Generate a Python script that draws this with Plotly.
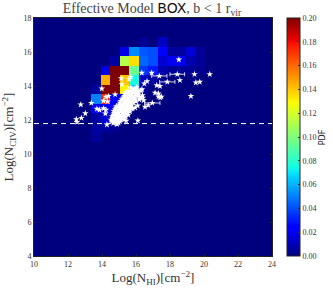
import plotly.graph_objects as go

x_edges = [10 + 0.56 * i for i in range(26)]
y_edges = [4 + 0.56 * i for i in range(26)]

def row(d):
    return [d.get(i, 0) for i in range(25)]

pdf_rows_top_down = [
    row({}),
    row({}),
    row({11: 0.004, 13: 0.012}),
    row({9: 0.018, 10: 0.052, 11: 0.042, 12: 0.04, 13: 0.022, 14: 0.005, 15: 0.005, 16: 0.015, 17: 0.004}),
    row({8: 0.006, 9: 0.113, 10: 0.135, 11: 0.045, 12: 0.04, 13: 0.014, 14: 0.02, 15: 0.02, 16: 0.008, 17: 0.004}),
    row({7: 0.018, 8: 0.2, 9: 0.2, 10: 0.095, 11: 0.036, 12: 0.03, 13: 0.008, 14: 0.004, 15: 0.004, 16: 0.004, 17: 0.003}),
    row({7: 0.145, 8: 0.2, 9: 0.14, 10: 0.075, 11: 0.012, 12: 0.006, 13: 0.003}),
    row({6: 0.005, 7: 0.2, 8: 0.2, 9: 0.13, 10: 0.06, 11: 0.005}),
    row({6: 0.05, 7: 0.175, 8: 0.02, 9: 0.015, 10: 0.005}),
    row({6: 0.02, 7: 0.02, 8: 0.02, 9: 0.01}),
    row({6: 0.006, 7: 0.015, 8: 0.005}),
    row({6: 0.006, 7: 0.006, 8: 0.003}),
    row({6: 0.005}),
] + [row({}) for _ in range(12)]

star_x = [18.52, 16.34, 16.92, 17.37, 18.43, 18.58, 19.44, 20.34, 17.84, 16.65, 16.49, 17.22, 17.41, 19.52, 19.75,
          15.13, 15.17, 15.6, 15.69, 13.99, 13.37, 14.23, 14.38, 14.09, 14.33, 14.77, 15.75, 16.05, 16.3, 16.35,
          17.12, 17.32, 17.5, 17.32, 17.42, 19.23, 16.96, 16.72, 16.53, 15.95, 15.75, 16.1, 13.7, 13.85, 14.09, 14.23,
          14.2, 12.75, 13.02, 12.79, 12.49, 12.53, 14.29, 14.88, 16.11, 16.0, 16.2, 16.4, 16.45, 15.9,
          14.66, 14.87, 14.97, 14.58, 14.77, 14.92, 15.06, 14.53, 14.71, 14.84, 15.02, 15.12, 14.62, 14.74, 14.91,
          15.03, 15.21, 14.59, 14.81, 14.96, 15.09, 15.26, 14.67, 14.79, 15.01, 15.16, 15.29, 14.71, 14.86, 14.99,
          15.22, 15.36, 14.69, 14.91, 15.11, 15.24, 15.41, 14.76, 14.94, 15.08, 15.31, 15.44, 14.82, 15.02, 15.19,
          15.37, 15.52, 14.84, 15.03, 15.22, 15.41, 15.61, 15.01, 15.18, 15.36, 15.49, 15.66, 15.06, 15.26, 15.44,
          15.62, 15.74, 15.09, 15.31, 15.52, 15.71, 15.17, 15.33, 15.56, 15.77, 15.24, 15.46, 15.59, 15.82, 15.31,
          15.49, 15.72, 15.91, 15.34, 15.57, 15.76, 15.42, 15.61, 15.84, 15.52, 15.69, 15.96, 16.02, 15.88, 15.66,
          15.6, 15.8, 15.5, 15.4, 15.3, 15.72, 15.85, 15.95, 16.05, 16.15, 16.28, 16.38, 16.12, 15.98, 16.22,
          15.55, 15.65, 15.42]
star_y = [15.55, 14.77, 14.77, 14.59, 14.69, 14.34, 14.69, 14.69, 14.24, 14.28, 14.14, 14.04, 13.99, 14.2, 14.24,
          14.45, 14.1, 14.4, 14.53, 13.85, 13.0, 13.36, 13.4, 13.13, 13.09, 13.5, 13.85, 13.95, 13.75, 13.8,
          13.6, 13.56, 13.37, 13.37, 13.32, 13.4, 13.0, 12.87, 12.77, 12.73, 12.67, 12.85, 12.65, 12.6, 12.68, 12.6,
          12.38, 12.9, 12.39, 12.12, 12.04, 11.88, 11.73, 11.76, 11.96, 13.1, 13.2, 13.3, 13.15, 13.25,
          11.82, 11.78, 11.83, 11.91, 11.88, 11.93, 11.9, 12.01, 11.98, 12.03, 11.99, 12.04, 12.1, 12.08, 12.12,
          12.09, 12.13, 12.21, 12.18, 12.22, 12.19, 12.23, 12.31, 12.28, 12.32, 12.29, 12.33, 12.41, 12.38, 12.42,
          12.39, 12.43, 12.52, 12.48, 12.51, 12.47, 12.53, 12.61, 12.58, 12.62, 12.59, 12.63, 12.71, 12.68, 12.72,
          12.69, 12.73, 12.81, 12.78, 12.82, 12.79, 12.83, 12.91, 12.88, 12.92, 12.89, 12.93, 13.01, 12.98, 13.02,
          12.99, 13.03, 13.11, 13.08, 13.12, 13.09, 13.21, 13.18, 13.22, 13.19, 13.31, 13.28, 13.32, 13.29, 13.41,
          13.38, 13.42, 13.39, 13.51, 13.48, 13.52, 13.61, 13.58, 13.62, 13.71, 13.68, 13.72, 13.85, 13.82, 13.9,
          12.6, 12.7, 12.42, 12.2, 12.02, 12.85, 13.0, 13.2, 13.4, 13.55, 13.72, 13.45, 13.65, 13.5, 13.35,
          12.3, 12.5, 11.95]

bar_x = [17.37, 18.43, 17.84, 16.96]
bar_y = [14.59, 14.69, 14.24, 13.0]
bar_err = [0.45, 0.43, 0.45, 0.45]

cut_x = [10, 24]
cut_y = [11.79, 11.79]

x_ticks = [10, 12, 14, 16, 18, 20, 22, 24]
y_ticks = [4, 6, 8, 10, 12, 14, 16, 18]
cbar_ticks = [0.00, 0.02, 0.04, 0.06, 0.08, 0.10, 0.12, 0.14, 0.16, 0.18, 0.20]

jet = [[0, "rgb(0,0,127)"], [0.11, "rgb(0,0,255)"], [0.125, "rgb(0,0,255)"], [0.34, "rgb(0,219,255)"],
       [0.375, "rgb(20,255,226)"], [0.64, "rgb(247,255,8)"], [0.66, "rgb(255,236,0)"],
       [0.89, "rgb(255,19,0)"], [0.91, "rgb(232,0,0)"], [1, "rgb(127,0,0)"]]

SERIF = "Liberation Serif"
W, H = 333, 290
L, R, T, B = 33.5, 60.5, 17.5, 33.5
fig = go.Figure()
fig.add_trace(go.Heatmap(
    x=x_edges, y=y_edges, z=pdf_rows_top_down[::-1], zmin=0, zmax=0.2, colorscale=jet,
    colorbar=dict(x=(287.3 - L) / (W - L - R), xanchor="left", y=0, yanchor="bottom", len=1, lenmode="fraction",
                  thickness=12.5, thicknessmode="pixels", tickvals=cbar_ticks, ticktext=[f"{v:.2f}" for v in cbar_ticks],
                  ticks="inside", ticklen=2, tickcolor="#333", tickfont=dict(family=SERIF, size=8, color="#333"),
                  outlinewidth=1, outlinecolor="#222", xpad=0, ypad=0),
    hoverinfo="skip"))
fig.add_trace(go.Scatter(x=cut_x, y=cut_y, mode="lines", line=dict(color="white", width=1, dash="5px,4px"), showlegend=False))
fig.add_trace(go.Scatter(x=bar_x, y=bar_y, mode="markers", marker=dict(size=1, color="white"), showlegend=False,
                         error_x=dict(type="data", array=bar_err, color="white", thickness=0.8, width=2)))
fig.add_trace(go.Scatter(x=star_x, y=star_y, mode="markers", showlegend=False,
                         marker=dict(symbol="star", size=5, color="white", line=dict(width=0))))

axis = dict(showgrid=False, zeroline=False, ticks="inside", ticklen=2, tickcolor="#222", mirror="ticks", showline=True,
            linecolor="#222", linewidth=1, automargin=False, tickfont=dict(family=SERIF, size=8, color="#333"))
fig.update_layout(
    width=W, height=H, autosize=False, margin=dict(l=L, r=R, t=T, b=B), paper_bgcolor="white", plot_bgcolor="rgb(0,0,127)",
    title=dict(text='Effective Model <span style="font-family:DejaVu Sans;color:#111">BOX</span>, b &lt; 1 r<sub>vir</sub>',
               x=152 / W, xanchor="center", y=1 - 8.5 / H, yanchor="middle", automargin=False,
               font=dict(family=SERIF, size=14, color="#444")),
    xaxis=dict(axis, range=[10, 24], tickvals=x_ticks, ticktext=[str(v) for v in x_ticks], automargin=True,
               title=dict(text="Log(N<sub>HI</sub>)[cm<sup>−2</sup>]", standoff=0, font=dict(family=SERIF, size=13, color="#333"))),
    yaxis=dict(axis, range=[4, 18], tickvals=y_ticks, ticktext=[str(v) for v in y_ticks],
               title=dict(text="Log(N<sub>CIV</sub>)[cm<sup>−2</sup>]", font=dict(family=SERIF, size=13, color="#333"))),
    annotations=[dict(text="PDF", xref="paper", yref="paper", x=(323 - L) / (W - L - R), y=0.5, showarrow=False, textangle=-90,
                      xanchor="center", yanchor="middle", font=dict(family="DejaVu Sans", size=8, color="#222"))],
)
fig.write_html("out.html", post_script="document.body.style.margin='0';", config=dict(displayModeBar=False))
